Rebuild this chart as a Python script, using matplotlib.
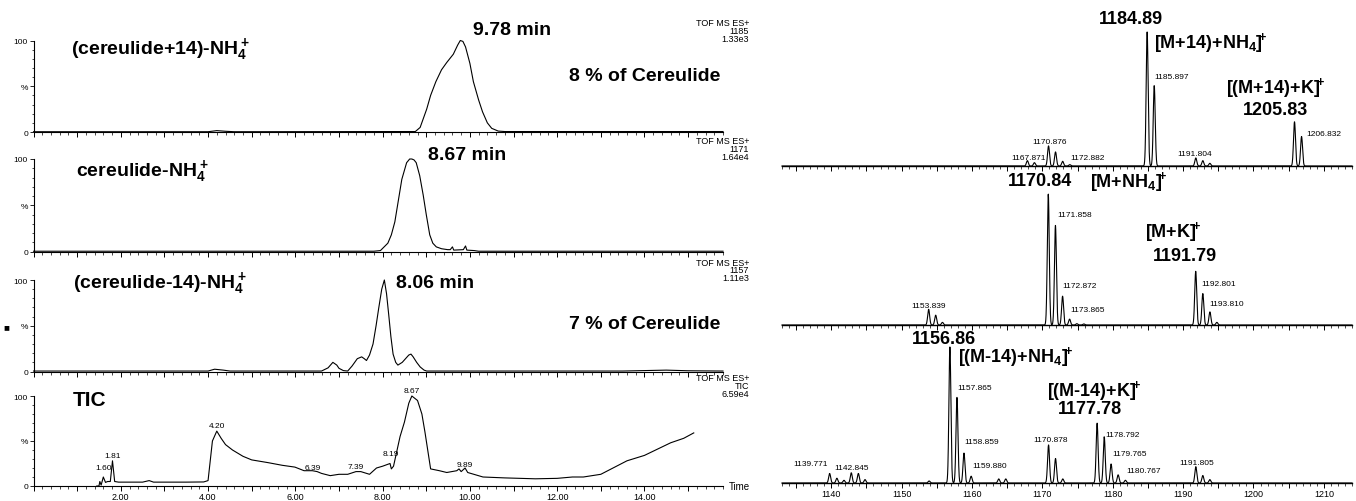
import numpy as np
import matplotlib
matplotlib.use('Agg')
import matplotlib.pyplot as plt
from matplotlib.ticker import MultipleLocator, FuncFormatter

plt.rcParams['font.family'] = ['Liberation Sans', 'DejaVu Sans']
plt.rcParams['mathtext.default'] = 'regular'
BIG = ['Liberation Sans Narrow', 'Liberation Sans', 'DejaVu Sans']

# ---------------- chromatogram data (time in min, intensity in %) ----------------
c14_t = [0.0, 4.0, 4.2, 4.4, 4.6, 8.75, 8.86, 9.01, 9.10, 9.22, 9.35, 9.47, 9.62, 9.72, 9.78,
         9.84, 9.90, 10.0, 10.08, 10.2, 10.29, 10.4, 10.5, 10.65, 10.8, 15.8]
c14_i = [0.3, 0.3, 1.5, 0.8, 0.3, 0.5, 5, 25, 40, 55, 68, 76, 85, 95, 100,
         99, 93, 75, 55, 35, 22, 10, 4, 1, 0.5, 0.5]

c0_t = [0.0, 7.8, 7.95, 8.12, 8.2, 8.28, 8.36, 8.44, 8.55, 8.62, 8.67, 8.72, 8.77, 8.85, 8.93,
        9.0, 9.08, 9.15, 9.23, 9.35, 9.49, 9.55, 9.6, 9.63, 9.85, 9.9, 9.93, 10.1, 10.2, 15.8]
c0_i = [0.3, 0.3, 1, 9, 18, 32, 55, 78, 96, 100, 100, 99, 96, 82, 61,
        40, 18, 9, 5, 3, 2, 2, 5, 1.5, 2, 6, 1.5, 1, 0.3, 0.3]

cm14_t = [0.0, 4.0, 4.15, 4.35, 4.5, 6.6, 6.75, 6.86, 6.95, 7.0, 7.1, 7.2, 7.3, 7.42, 7.52, 7.58,
          7.63, 7.7, 7.78, 7.85, 7.91, 7.98, 8.04, 8.09, 8.14, 8.19, 8.24, 8.3, 8.35, 8.45, 8.6,
          8.65, 8.7, 8.78, 8.86, 8.95, 9.01, 13.5, 14.0, 14.5, 15.0, 15.8]
cm14_i = [0.5, 0.5, 2.5, 1.5, 0.5, 0.5, 4, 10, 7, 3.5, 1, 0.5, 6, 14, 16, 14,
          12, 18, 30, 50, 69, 90, 100, 85, 62, 38, 19, 10, 7, 10, 18,
          19, 16, 10, 5, 1.5, 0.5, 0.5, 1, 1.5, 0.8, 0.5]

tic_t = [1.45, 1.50, 1.52, 1.55, 1.60, 1.65, 1.70, 1.76, 1.81, 1.86, 1.95, 2.5, 2.65, 2.75, 3.5,
         3.9, 4.0, 4.1, 4.2, 4.3, 4.4, 4.56, 4.8, 5.0, 5.37, 5.7, 5.99, 6.2, 6.39, 6.5, 6.6,
         6.8, 7.0, 7.2, 7.39, 7.5, 7.7, 7.86, 8.0, 8.17, 8.2, 8.25, 8.4, 8.5, 8.6, 8.67, 8.8,
         8.9, 8.97, 9.1, 9.3, 9.47, 9.7, 9.75, 9.8, 9.89, 9.95, 10.3, 10.8, 11.5, 12.0, 12.35,
         12.6, 13.0, 13.6, 14.0, 14.6, 14.9, 15.13]
tic_i = [0, 0, 5, 1, 10, 4, 5, 5, 28, 5, 4.3, 4.3, 6, 4.3, 4.3,
         4.5, 6, 50, 61, 53, 46, 40, 33, 29, 26, 23, 21, 17, 17, 16, 14,
         11.5, 13, 13, 16, 16, 13, 20, 22, 25, 19, 22, 55, 71, 92, 100, 95,
         80, 60, 19, 17, 15, 17, 19, 16, 20, 15, 10, 9, 8, 8.5, 10,
         10, 13, 28, 34, 48, 53, 59]
tic_lbl = ['1.60', '1.81', '4.20', '6.39', '7.39', '8.19', '8.67', '9.89']
tic_lbl_t = [1.60, 1.81, 4.20, 6.39, 7.39, 8.19, 8.67, 9.89]
tic_lbl_y = [20.6, 34, 67, 20.6, 22, 36.5, 106, 23.5]

time_ticks = [2, 4, 6, 8, 10, 12, 14]

# ---------------- mass spectra data (m/z, relative intensity %) ----------------
ms1_mz = [1167.87, 1168.87, 1170.876, 1171.87, 1172.882, 1173.9, 1184.89, 1185.897,
          1191.804, 1192.8, 1193.8, 1205.83, 1206.832]
ms1_i = [4, 2.5, 15, 10.5, 3.5, 1, 100, 60, 6, 4, 2, 33, 22]
ms1_lbl = ['1167.871', '1170.876', '1172.882', '1185.897', '1191.804', '1206.832']
ms1_lbl_x = [1168.0, 1171.0, 1174.0, 1185.9, 1191.7, 1207.5]
ms1_lbl_y = [6, 18, 6.5, 67, 9, 24]
ms1_lbl_ha = ['center', 'center', 'left', 'left', 'center', 'left']

ms2_mz = [1153.839, 1154.84, 1155.8, 1170.84, 1171.858, 1172.872, 1173.865, 1174.9, 1175.9,
          1191.79, 1192.801, 1193.81, 1194.8]
ms2_i = [12, 7.5, 2, 100, 76, 22, 4.5, 1, 0.8, 41, 24, 10, 2]
ms2_lbl = ['1153.839', '1171.858', '1172.872', '1173.865', '1192.801', '1193.810']
ms2_lbl_x = [1153.9, 1172.1, 1172.9, 1174.0, 1192.6, 1193.7]
ms2_lbl_y = [15, 84, 30, 11.5, 32, 16.5]
ms2_lbl_ha = ['center', 'left', 'left', 'left', 'left', 'left']

ms3_mz = [1139.771, 1140.8, 1141.8, 1142.845, 1143.85, 1144.8, 1153.9, 1156.86, 1157.865,
          1158.859, 1159.88, 1163.8, 1164.8, 1170.878, 1171.87, 1172.9, 1177.78, 1178.792,
          1179.765, 1180.767, 1181.8, 1191.805, 1192.8, 1193.8]
ms3_i = [7, 3.5, 2, 7.5, 7, 2.5, 1.5, 100, 63, 22, 5, 3, 3, 28, 18, 3, 44, 34,
         14, 6, 2, 12, 5.5, 2.5]
ms3_lbl = ['1139.771', '1142.845', '1157.865', '1158.859', '1159.880', '1170.878',
           '1178.792', '1179.765', '1180.767', '1191.805']
ms3_lbl_x = [1137.1, 1142.9, 1157.9, 1158.9, 1160.0, 1171.1, 1178.9, 1180.0, 1181.9, 1192.0]
ms3_lbl_y = [14.6, 11.7, 70, 30.5, 12.7, 32, 36, 21.5, 9, 15]
ms3_lbl_ha = ['center', 'center', 'left', 'left', 'left', 'center', 'left', 'left', 'left', 'center']

mz_ticks = [1140, 1150, 1160, 1170, 1180, 1190, 1200, 1210]

# ---------------- figure ----------------
W, H = 1356, 502
fig = plt.figure(figsize=(W / 100, H / 100), dpi=100)


def frac_axes(x0, x1, ytop, ybot):
    return fig.add_axes([x0 / W, 1 - ybot / H, (x1 - x0) / W, (ybot - ytop) / H])


left_rows = [(41.5, 133), (160, 252.5), (281, 372.5), (397, 487)]
right_rows = [(33, 167), (195, 326), (348, 484)]

chrom = [(c14_t, c14_i), (c0_t, c0_i), (cm14_t, cm14_i), (tic_t, tic_i)]
tof_second = ['1185', '1171', '1157', 'TIC']
tof_third = ['1.33e3', '1.64e4', '1.11e3', '6.59e4']
bigfs = 14

for k, (yt, yb) in enumerate(left_rows):
    ax = frac_axes(33.5, 723, yt, yb)
    t, i = chrom[k]
    ax.plot(t, i, color='black', lw=0.8, clip_on=False)
    ax.set_xlim(0, 15.8)
    ax.set_ylim(0, 100)
    for s in ['top', 'right']:
        ax.spines[s].set_visible(False)
    ax.spines['left'].set_linewidth(0.8)
    ax.spines['bottom'].set_linewidth(0.8)
    ax.set_yticks([0, 50, 100])
    ax.set_yticklabels(['0', '%', '100'], fontsize=6)
    ax.yaxis.set_minor_locator(MultipleLocator(10))
    ax.xaxis.set_major_locator(MultipleLocator(1))
    ax.xaxis.set_minor_locator(MultipleLocator(0.2))
    ax.tick_params(axis='y', which='major', length=3, width=0.6, pad=1)
    ax.tick_params(axis='y', which='minor', length=1.5, width=0.5)
    ax.tick_params(axis='x', which='major', length=3.5, width=0.7, pad=1)
    ax.tick_params(axis='x', which='minor', length=2, width=0.5)
    if k == 3:
        ax.xaxis.set_major_formatter(FuncFormatter(
            lambda v, p: ('%.2f' % v) if (round(v) in time_ticks and abs(v - round(v)) < 1e-6) else ''))
        ax.tick_params(axis='x', labelsize=6.5)
    else:
        ax.tick_params(axis='x', labelbottom=False)
    # TOF MS header
    y0 = yt - 18
    for j, s in enumerate(['TOF MS ES+', tof_second[k], tof_third[k]]):
        fig.text(749 / W, 1 - (y0 + 8 * j) / H, s, fontsize=6.5, ha='right', va='center')
    if k == 0:
        ax.text(0.86, 91, '(cereulide+14)-NH$_4^+$', family=BIG, weight='bold', fontsize=bigfs, va='center')
        ax.text(10.08, 112, '9.78 min', family=BIG, weight='bold', fontsize=bigfs, va='center', clip_on=False)
        ax.text(15.75, 62, '8 % of Cereulide', family=BIG, weight='bold', fontsize=bigfs, va='center', ha='right')
    elif k == 1:
        ax.text(0.97, 87.5, 'cereulide-NH$_4^+$', family=BIG, weight='bold', fontsize=bigfs, va='center')
        ax.text(9.05, 105, '8.67 min', family=BIG, weight='bold', fontsize=bigfs, va='center', clip_on=False)
    elif k == 2:
        ax.text(0.9, 97, '(cereulide-14)-NH$_4^+$', family=BIG, weight='bold', fontsize=bigfs, va='center', clip_on=False)
        ax.text(8.31, 97, '8.06 min', family=BIG, weight='bold', fontsize=bigfs, va='center', clip_on=False)
        ax.text(15.75, 53, '7 % of Cereulide', family=BIG, weight='bold', fontsize=bigfs, va='center', ha='right')
    else:
        ax.text(0.9, 96, 'TIC', family=BIG, weight='bold', fontsize=15, va='center')
        for s, tt, yy in zip(tic_lbl, tic_lbl_t, tic_lbl_y):
            ax.text(tt, yy, s, fontsize=6, ha='center', va='center', clip_on=False)
        fig.text(750 / W, 1 - yb / H, 'Time', fontsize=7, ha='right', va='center')

fig.text(6 / W, 1 - 327 / H, '\u25a0', fontsize=7, ha='center', va='center')

spectra = [
    (ms1_mz, ms1_i, ms1_lbl, ms1_lbl_x, ms1_lbl_y, ms1_lbl_ha),
    (ms2_mz, ms2_i, ms2_lbl, ms2_lbl_x, ms2_lbl_y, ms2_lbl_ha),
    (ms3_mz, ms3_i, ms3_lbl, ms3_lbl_x, ms3_lbl_y, ms3_lbl_ha),
]
XL = (1133, 1214)
for k, (yt, yb) in enumerate(right_rows):
    ax = frac_axes(782, 1352, yt, yb)
    mz, inten, lbl, lx, ly, lha = spectra[k]
    x = np.linspace(XL[0], XL[1], 6000)
    y = np.zeros_like(x)
    for m, h in zip(mz, inten):
        y += h * np.exp(-0.5 * ((x - m) / 0.14) ** 2)
    ax.plot(x, y, color='black', lw=0.8, clip_on=False)
    ax.set_xlim(*XL)
    ax.set_ylim(0, 100)
    for s in ['top', 'right', 'left']:
        ax.spines[s].set_visible(False)
    ax.spines['bottom'].set_linewidth(1.0)
    ax.set_yticks([])
    ax.xaxis.set_major_locator(MultipleLocator(5))
    ax.xaxis.set_minor_locator(MultipleLocator(1))
    ax.tick_params(axis='x', which='major', length=3.5, width=0.7, pad=1)
    ax.tick_params(axis='x', which='minor', length=2, width=0.5)
    if k == 2:
        ax.xaxis.set_major_formatter(FuncFormatter(
            lambda v, p: ('%d' % round(v)) if round(v) in mz_ticks else ''))
        ax.tick_params(axis='x', labelsize=6.5)
    else:
        ax.tick_params(axis='x', labelbottom=False)
    for s, xx, yy, ha in zip(lbl, lx, ly, lha):
        ax.text(xx, yy, s, fontsize=6, ha=ha, va='center', clip_on=False)
    bk = dict(family=BIG, weight='bold', fontsize=13, va='center', clip_on=False)
    if k == 0:
        ax.text(1182.6, 110, '1184.89', ha='center', **bk)
        ax.text(1185.9, 92.5, r'[M+14)+NH$_4]\!^{+}$', ha='left', **bk)
        ax.text(1203.2, 59, r'[(M+14)+K$]\!^{+}$', ha='center', **bk)
        ax.text(1203.2, 42.5, '1205.83', ha='center', **bk)
    elif k == 1:
        ax.text(1169.6, 110, '1170.84', ha='center', **bk)
        ax.text(1176.7, 110, r'[M+NH$_4]\!^{+}$', ha='left', **bk)
        ax.text(1188.6, 72, r'[M+K$]\!^{+}$', ha='center', **bk)
        ax.text(1190.2, 52.7, '1191.79', ha='center', **bk)
    else:
        ax.text(1156.0, 106, '1156.86', ha='center', **bk)
        ax.text(1158.0, 93.4, r'[(M-14)+NH$_4]\!^{+}$', ha='left', **bk)
        ax.text(1177.4, 68.6, r'[(M-14)+K$]\!^{+}$', ha='center', **bk)
        ax.text(1176.8, 54.7, '1177.78', ha='center', **bk)

fig.savefig('out.png', dpi=100)
